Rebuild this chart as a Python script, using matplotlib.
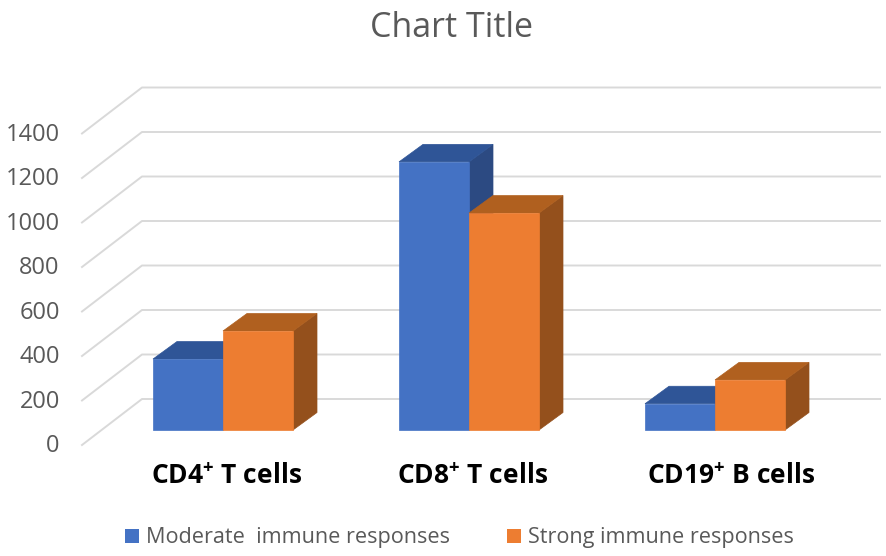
import matplotlib
matplotlib.use("Agg")
import matplotlib.pyplot as plt
from matplotlib.patches import Polygon, Patch
from matplotlib.transforms import ScaledTranslation

categories = [r"CD4$^{\mathbf{+}}$ T cells", r"CD8$^{\mathbf{+}}$ T cells", r"CD19$^{\mathbf{+}}$ B cells"]
moderate = [319, 1205, 118]
strong = [445, 975, 225]
series_names = ["Moderate  immune responses", "Strong immune responses"]
yticks = [0, 200, 400, 600, 800, 1000, 1200, 1400]

plt.rcParams["font.family"] = ["Open Sans", "DejaVu Sans"]
plt.rcParams["mathtext.fontset"] = "custom"
plt.rcParams["mathtext.bf"] = "Open Sans:bold"
W, H = 886, 556
fig = plt.figure(figsize=(W / 100, H / 100), dpi=100)
L, R, B = 82, 820, 445
px_y = 44.5 / 200
T = B - 1400 * px_y
ax = fig.add_axes([L / W, 1 - B / H, (R - L) / W, (B - T) / H])
px_x = 246.0
x0 = -(223 - L) / px_x
x1 = x0 + (R - L) / px_x
ax.set_xlim(x0, x1)
ax.set_ylim(0, 1400)
for s in ax.spines.values():
    s.set_visible(False)
ax.patch.set_alpha(0)

GRID = "#d9d9d9"
wall_dx, wall_dy = 60 / px_x, 46 / px_y
for v in yticks:
    ax.plot([x0, x0 + wall_dx, x1 + wall_dx], [v, v + wall_dy, v + wall_dy],
            color=GRID, lw=1.4, clip_on=False, zorder=1)

# bars stand partway back on the floor
base = 15 / px_y
dx, dy = 24 / px_x, 17.5 / px_y
bw = 70 / px_x


def bar3d(left, value, front, top, side):
    r = left + bw
    h = base + value
    ax.add_patch(Polygon([(r, base), (r + dx, base + dy), (r + dx, h + dy), (r, h)],
                         fc=side, ec=side, lw=0.5, clip_on=False, zorder=3))
    ax.add_patch(Polygon([(left, h), (r, h), (r + dx, h + dy), (left + dx, h + dy)],
                         fc=top, ec=top, lw=0.5, clip_on=False, zorder=3))
    ax.add_patch(Polygon([(left, base), (r, base), (r, h), (left, h)],
                         fc=front, ec=front, lw=0.5, clip_on=False, zorder=3))


for i in range(len(categories)):
    bar3d(i - bw, moderate[i], "#4472c4", "#2f5597", "#2c4a82")
    bar3d(i, strong[i], "#ed7d31", "#b0601f", "#94501c")

ax.set_yticks(yticks)
ax.tick_params(axis="y", length=0, pad=16, labelsize=17, labelcolor="#595959")
shift = ScaledTranslation(0, 2 / 100, fig.dpi_scale_trans)
for lab in ax.get_yticklabels():
    lab.set_transform(lab.get_transform() + shift)
ax.set_xticks([0.013, 1.013, 2.065])
ax.set_xticklabels(categories, fontsize=19, fontweight="bold", color="black")
ax.tick_params(axis="x", length=0, pad=13)

fig.text(452 / W, 1 - 28 / H, "Chart Title", ha="center", va="center", fontsize=24.5, color="#595959")
handles = [Patch(fc="#4472c4", label=series_names[0]), Patch(fc="#ed7d31", label=series_names[1])]
fig.legend(handles=handles, loc="center left", bbox_to_anchor=(125 / W, 1 - 538 / H), ncol=2, frameon=False,
           fontsize=15.6, labelcolor="#595959", handlelength=0.66, handleheight=0.66, handletextpad=0.3,
           columnspacing=2.63, borderpad=0, borderaxespad=0)
fig.savefig("out.png", dpi=100)
